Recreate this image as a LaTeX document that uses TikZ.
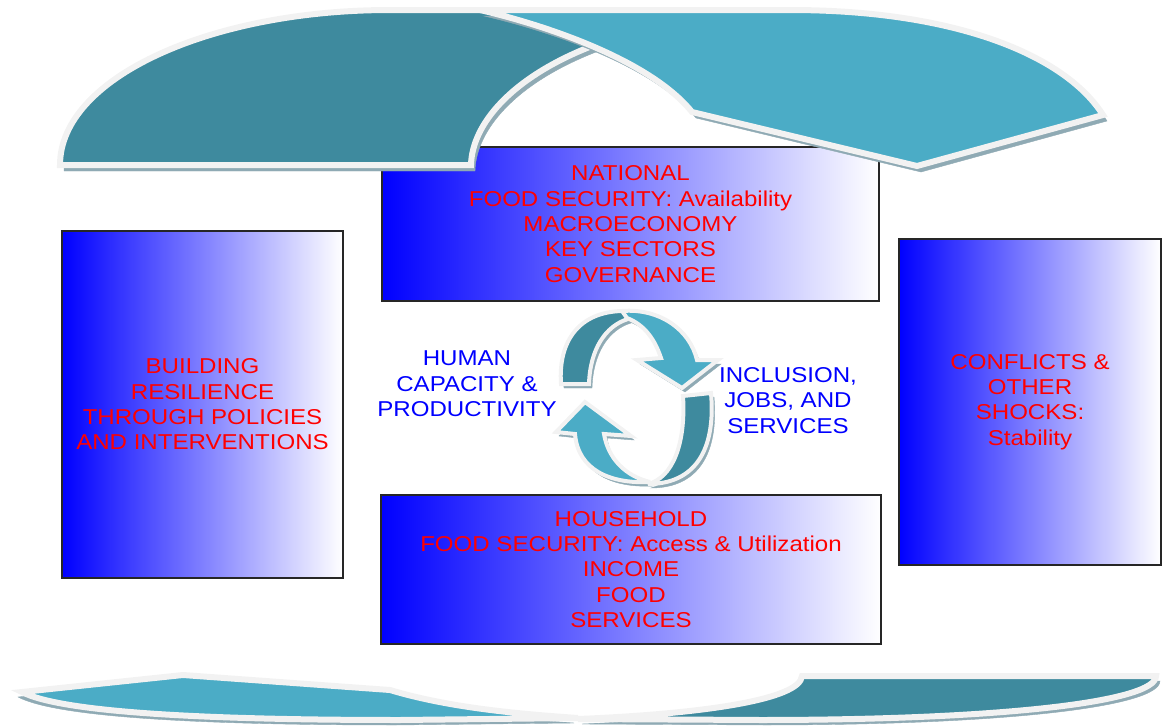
\documentclass[tikz,border=0pt]{standalone}
\usepackage{fontspec}
\setmainfont{Liberation Sans}[FakeStretch=1.12]
\definecolor{tealdark}{HTML}{3E8A9E}
\definecolor{teallight}{HTML}{4BACC6}
\definecolor{rimgrey}{HTML}{F2F2F2}
\definecolor{shadegrey}{HTML}{8FAAB4}
\tikzset{
  panel/.style={draw=black!85, line width=1.2pt, left color=blue, right color=white,
    text=red, align=center, inner sep=0pt, font=\fontsize{21.5}{25.3}\selectfont},
  flowlabel/.style={text=blue, align=center, inner sep=0pt, font=\fontsize{21.5}{25.3}\selectfont},
  castshadow/.style 2 args={preaction={fill=shadegrey, draw=shadegrey,
    transform canvas={shift={(#1pt,#2pt)}}}},
  rim/.style={draw=rimgrey, line width=#1, line join=miter, miter limit=4},
}
\begin{document}
        \begin{tikzpicture}[x=1pt, y=-1pt]
            \useasboundingbox (0,0) rectangle (1163,728);

            \node at (630.5,224) [panel, minimum width=497, minimum height=154] (national) {NATIONAL\\FOOD SECURITY: Availability\\MACROECONOMY\\KEY SECTORS\\GOVERNANCE};
            \node at (202.5,404.5) [panel, minimum width=281, minimum height=347] (resilience) {BUILDING\\RESILIENCE\\THROUGH POLICIES\\AND INTERVENTIONS};
            \node at (1030,402) [panel, minimum width=262, minimum height=326] (shocks) {CONFLICTS \&\\OTHER\\SHOCKS:\\Stability};
            \node at (631,569.5) [panel, minimum width=500, minimum height=149] (household) {HOUSEHOLD\\FOOD SECURITY: Access \& Utilization\\INCOME\\FOOD\\SERVICES};

            \node at (467,384) [flowlabel] (human) {HUMAN\\CAPACITY \&\\PRODUCTIVITY};
            \node at (788,400.5) [flowlabel] (inclusion) {INCLUSION,\\JOBS, AND\\SERVICES};

            \filldraw[fill=tealdark, rim=6pt, castshadow={4}{-6}] (60,165) .. controls (60,78) and (210,10) .. (390,10) -- (560,10) -- (620,40) -- (592,46) .. controls (510,78) and (472,125) .. (471,165) -- cycle;
            \filldraw[fill=teallight, rim=6pt, castshadow={4}{-6}] (480,10) -- (790,10) .. controls (955,10) and (1065,55) .. (1103,115) -- (917,166) -- (692,112) .. controls (650,60) and (545,25) .. (480,10) -- cycle;

            \filldraw[fill=teallight, rim=6pt, castshadow={-4}{-5}] (22,692) -- (183,675) -- (390,690) .. controls (450,708) and (520,714) .. (578,718) -- (400,720) .. controls (200,720) and (60,712) .. (22,692) -- cycle;
            \filldraw[fill=tealdark, rim=6pt, castshadow={4}{-5}] (802,676) -- (1156,676) .. controls (1156,702) and (1000,720) .. (760,720) -- (578,719) .. controls (700,714) and (800,700) .. (802,676) -- cycle;

            \filldraw[fill=teallight, rim=4pt, castshadow={3}{-4}] (585,402) -- (631,436) -- (604,434) .. controls (608,458) and (625,476) .. (650,482) .. controls (610,484) and (578,470) .. (575,434) -- (556,432) -- cycle;
            \filldraw[fill=tealdark, rim=4pt, castshadow={3}{-4}] (683,396) -- (711,393) .. controls (716,450) and (695,484) .. (648,484) .. controls (672,478) and (686,445) .. (683,396) -- cycle;
            \filldraw[fill=tealdark, rim=4pt, castshadow={3}{-4}] (561,384) .. controls (558,340) and (580,312) .. (622,311) -- (645,313) -- (628,319) .. controls (605,326) and (590,350) .. (589,384) -- cycle;
            \filldraw[fill=teallight, rim=4pt, castshadow={3}{-4}] (622,311) .. controls (660,308) and (690,330) .. (697,360) -- (718,360) -- (682,388) -- (637,360) -- (661,358) .. controls (655,340) and (645,325) .. (627,318) -- cycle;
        \end{tikzpicture}
\end{document}
